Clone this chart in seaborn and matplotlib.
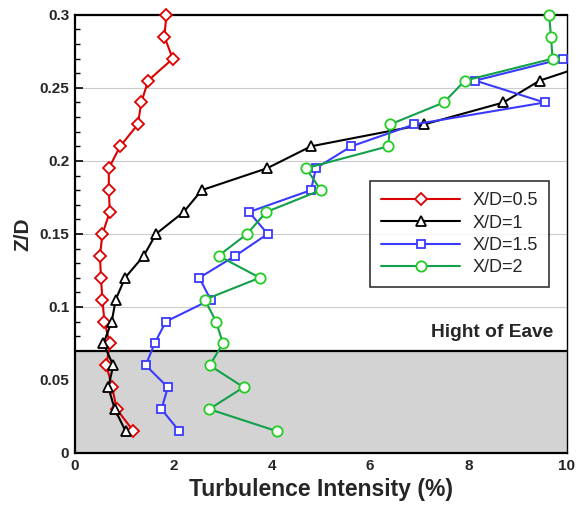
import matplotlib
matplotlib.use("Agg")
import matplotlib.pyplot as plt
import seaborn as sns
import numpy as np
from matplotlib.ticker import MultipleLocator

sns.set_theme(style="white")
plt.rcParams['font.family'] = ['Liberation Sans', 'DejaVu Sans']

# Z/D levels (top to bottom)
zd = [0.3, 0.285, 0.27, 0.255, 0.24, 0.225, 0.21, 0.195, 0.18, 0.165,
      0.15, 0.135, 0.12, 0.105, 0.09, 0.075, 0.06, 0.045, 0.03, 0.015]

ti_05 = [1.86, 1.82, 1.99, 1.49, 1.35, 1.28, 0.92, 0.69, 0.69, 0.71,
         0.56, 0.51, 0.53, 0.56, 0.60, 0.71, 0.64, 0.76, 0.85, 1.19]

zd_1 = [0.27, 0.255, 0.24, 0.225, 0.21, 0.195, 0.18, 0.165,
        0.15, 0.135, 0.12, 0.105, 0.09, 0.075, 0.06, 0.045, 0.03, 0.015]
ti_1 = [10.8, 9.45, 8.71, 7.10, 4.80, 3.91, 2.58, 2.21,
        1.65, 1.40, 1.02, 0.83, 0.75, 0.58, 0.78, 0.68, 0.81, 1.03]

zd_15 = [0.27, 0.255, 0.24, 0.225, 0.21, 0.195, 0.18, 0.165,
         0.15, 0.135, 0.12, 0.105, 0.09, 0.075, 0.06, 0.045, 0.03, 0.015]
ti_15 = [9.92, 8.14, 9.55, 6.90, 5.62, 4.90, 4.80, 3.54,
         3.92, 3.26, 2.53, 2.76, 1.85, 1.62, 1.44, 1.89, 1.76, 2.12]

ti_2 = [9.64, 9.68, 9.71, 7.93, 7.50, 6.41, 6.37, 4.70, 5.00, 3.89,
        3.50, 2.92, 3.76, 2.64, 2.87, 3.01, 2.74, 3.43, 2.73, 4.10]

labels = ["X/D=0.5", "X/D=1", "X/D=1.5", "X/D=2"]
eave_height = 0.07
eave_text = "Hight of Eave"

fig = plt.figure(figsize=(5.76, 5.13), dpi=100)
ax = fig.add_axes([0.130, 0.117, 0.854, 0.854])

series = [
    (ti_05, zd, labels[0], 'D', 6.2, '#dd0000', '#dd0000', False),
    (ti_1, zd_1, labels[1], '^', 6.8, 'black', 'black', True),
    (ti_15, zd_15, labels[2], 's', 5.6, '#3a3aff', '#3a3aff', False),
    (ti_2, zd, labels[3], 'o', 7.4, '#12a04a', '#22cc22', False),
]
for x, y, lab, mk, ms, lc, mc, clip in series:
    sns.lineplot(x=x, y=y, ax=ax, sort=False, estimator=None, label=lab,
                 color=lc, marker=mk, markersize=ms, markerfacecolor='white',
                 markeredgecolor=mc, markeredgewidth=1.3, linewidth=1.5,
                 clip_on=clip, zorder=3)

ax.axhspan(0, eave_height, color='#d3d3d3', zorder=0.6, lw=0)
ax.axhline(eave_height, color='black', lw=1.6, zorder=1)
ax.text(9.73, 0.0795, eave_text, ha='right', va='baseline',
        fontsize=13.8, fontweight='bold')

ax.set_xlim(0, 10)
ax.set_ylim(0, 0.3)
ax.xaxis.set_minor_locator(MultipleLocator(0.5))
ax.yaxis.set_minor_locator(MultipleLocator(0.01))
ax.set_yticks([0, 0.05, 0.1, 0.15, 0.2, 0.25, 0.3])
ax.set_yticklabels(["0", "0.05", "0.1", "0.15", "0.2", "0.25", "0.3"])
ax.set_xticks([0, 2, 4, 6, 8, 10])
ax.set_xticklabels(["0", "2", "4", "6", "8", "10"])

ax.tick_params(which='both', direction='in', bottom=True, left=True,
               top=False, right=False, color='black')
ax.tick_params(which='major', length=6, width=1.2, labelsize=11, pad=4)
ax.tick_params(which='minor', length=3.5, width=1.0)
for lbl in ax.get_xticklabels() + ax.get_yticklabels():
    lbl.set_fontweight('bold')

ax.grid(True, axis='y', which='major', color='#cccccc', lw=0.8)
ax.grid(False, axis='x')
ax.set_axisbelow(True)

for side in ['left', 'bottom', 'top']:
    ax.spines[side].set_linewidth(1.6)
    ax.spines[side].set_color('black')
ax.spines['right'].set_linewidth(1.0)
ax.spines['right'].set_color('black')

ax.set_xlabel("Turbulence Intensity (%)", fontsize=16.5, fontweight='bold', labelpad=4)
ax.set_ylabel("Z/D", fontsize=15, fontweight='bold', labelpad=5)

leg = ax.legend(loc='upper left', bbox_to_anchor=(0.60, 0.62), fontsize=13,
                frameon=True, fancybox=False, edgecolor='black',
                handlelength=4.4, handletextpad=0.7, labelspacing=0.3,
                borderpad=0.6, borderaxespad=0)
leg.get_frame().set_linewidth(1.2)
leg.set_zorder(5)

fig.savefig("out.png", dpi=100, facecolor='white')
